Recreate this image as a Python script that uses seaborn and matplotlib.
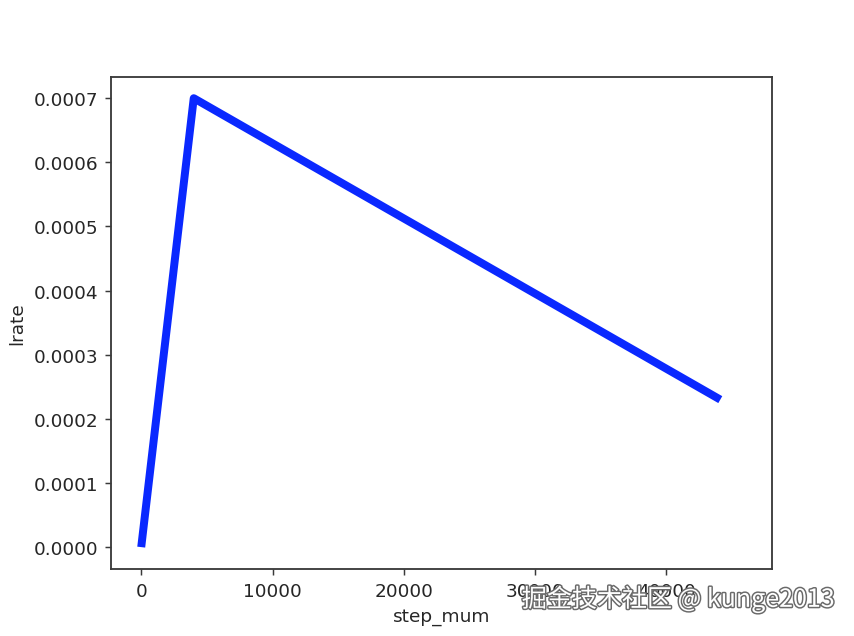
import matplotlib
matplotlib.use("Agg")
import matplotlib.pyplot as plt
import matplotlib.patheffects as pe
import seaborn as sns
import pandas as pd

# learning rate schedule: linear warmup then linear decay
step_mum = [0, 4000, 44100]
lrate = [0.0, 0.0007, 0.00023]

x_ticks = [0, 10000, 20000, 30000, 40000]
y_ticks = [0.0, 0.0001, 0.0002, 0.0003, 0.0004, 0.0005, 0.0006, 0.0007]

df = pd.DataFrame({"step_mum": step_mum, "lrate": lrate})

fig = plt.figure(figsize=(6.4, 4.7736), dpi=133.44)
ax = fig.add_axes([0.130, 0.105, 0.774, 0.7725])

sns.lineplot(data=df, x="step_mum", y="lrate", ax=ax, color="#0a28ff",
             linewidth=4.3, solid_capstyle="butt")

ax.set_xlim(-2300, 48040)
ax.set_ylim(-0.0000343, 0.000733)
ax.set_xticks(x_ticks)
ax.set_yticks(y_ticks)
ax.set_yticklabels([f"{v:.4f}" for v in y_ticks])

for s in ax.spines.values():
    s.set_color("#3a3a3a")
    s.set_linewidth(1.0)
ax.tick_params(colors="#3a3a3a", labelcolor="#262626", labelsize=10)
ax.set_xlabel("step_mum", fontsize=10, color="#262626")
ax.set_ylabel("lrate", fontsize=10, color="#262626")

# watermark
fig.text(0.977, 0.058, "掘金技术社区 @ kunge2013", ha="right", va="center",
         fontsize=13.5, color="white", family=["Noto Sans CJK SC", "DejaVu Sans"],
         path_effects=[pe.withStroke(linewidth=1.6, foreground="#6a6a6a")])

fig.savefig("out.png", dpi=133.44)
